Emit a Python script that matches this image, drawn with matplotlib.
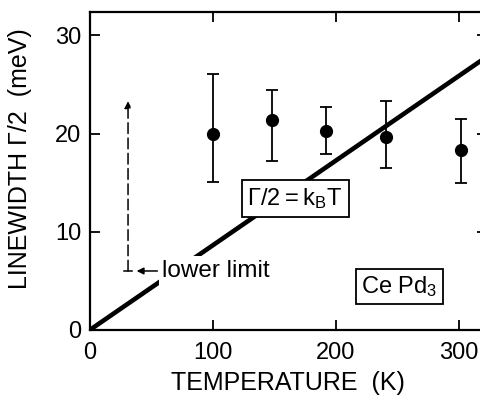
import numpy as np
import matplotlib.pyplot as plt

plt.rcParams['font.family'] = ['Liberation Sans', 'DejaVu Sans']

# measured half-widths for CePd3
temperature = [100, 148, 192, 241, 302]
halfwidth = [20.0, 21.4, 20.3, 19.7, 18.3]
err_low = [4.9, 4.2, 2.4, 3.2, 3.3]
err_high = [6.1, 3.0, 2.4, 3.6, 3.2]

# lower limit from the low-temperature spectrum
limit_T = 31
limit_from = 6.0
limit_to = 23.3

kB = 0.08617  # meV / K
T_line = np.array([0, 330])

fig = plt.figure(figsize=(4.81, 3.96), dpi=100)
ax = fig.add_axes([0.187, 0.167, 0.825, 0.803])

ax.plot(T_line, kB * T_line, color='black', lw=3.3, solid_capstyle='butt', zorder=1)

ax.errorbar(temperature, halfwidth, yerr=[err_low, err_high], fmt='o', color='black',
            ms=8.5, capsize=4, elinewidth=1.3, capthick=1.3, zorder=3)

# dashed arrow for the lower limit
ax.annotate('', xy=(limit_T, limit_to), xytext=(limit_T, limit_from),
            arrowprops=dict(arrowstyle='-|>', linestyle=(0, (7, 3)), lw=1.1,
                            color='black', mutation_scale=10, shrinkA=0, shrinkB=0))
ax.plot([limit_T - 3, limit_T + 3], [limit_from, limit_from], color='black', lw=1.1)
ax.annotate('lower limit', xy=(38, limit_from), xytext=(59, limit_from),
            ha='left', va='center', fontsize=17.5,
            bbox=dict(boxstyle='square,pad=0.15', fc='white', ec='none'),
            arrowprops=dict(arrowstyle='-|>', lw=1.1, color='black',
                            mutation_scale=10, shrinkA=1, shrinkB=0))

ax.text(167, 13.35, r'$\mathregular{\Gamma/2=k_BT}$', ha='center', va='center', fontsize=17,
        bbox=dict(boxstyle='square,pad=0.25', fc='white', ec='black', lw=1.3), zorder=4)
ax.text(252, 4.4, r'Ce Pd$\mathregular{_3}$', ha='center', va='center', fontsize=17,
        bbox=dict(boxstyle='square,pad=0.22', fc='white', ec='black', lw=1.3), zorder=4)

ax.set_xlim(0, 323)
ax.set_ylim(0, 32.4)
ax.set_xticks([0, 100, 200, 300])
ax.set_yticks([0, 10, 20, 30])
ax.tick_params(direction='in', length=7, width=1.3, labelsize=17,
               top=True, right=True)
ax.tick_params(axis='x', pad=9)
ax.tick_params(axis='y', pad=6)
for s in ax.spines.values():
    s.set_linewidth(1.6)

ax.set_xlabel('TEMPERATURE  (K)', fontsize=18, labelpad=5)
ax.set_ylabel('LINEWIDTH \u0393/2  (meV)', fontsize=18)
ax.yaxis.set_label_coords(-0.145, 0.54)

fig.savefig('out.png', dpi=100)
